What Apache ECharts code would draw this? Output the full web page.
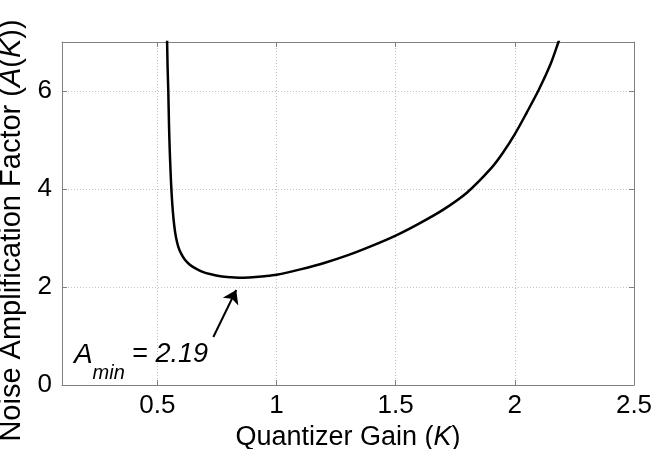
<!DOCTYPE html>
<html>
<head>
<meta charset="utf-8">
<script src="https://cdn.jsdelivr.net/npm/echarts@6/dist/echarts.min.js"></script>
<style>
  html, body { margin: 0; padding: 0; background: #fff; }
  #chart { width: 655px; height: 449px; }
</style>
</head>
<body>
<div id="chart"></div>
<script>
  // quantizer gain K and noise amplification A(K)
  const gainK = [0.540, 0.543, 0.546, 0.549, 0.552, 0.556, 0.560, 0.565, 0.571, 0.578, 0.588, 0.600, 0.615, 0.635, 0.660, 0.690, 0.725, 0.765, 0.810, 0.850, 0.900, 0.950, 1.000, 1.100, 1.200, 1.300, 1.400, 1.500, 1.600, 1.700, 1.800, 1.900, 1.950, 2.000, 2.050, 2.100, 2.150, 2.183, 2.200];
  const ampA  = [7.30, 6.50, 6.00, 5.30, 4.80, 4.30, 3.90, 3.55, 3.25, 3.02, 2.82, 2.68, 2.56, 2.46, 2.38, 2.31, 2.26, 2.22, 2.20, 2.19, 2.20, 2.22, 2.25, 2.36, 2.49, 2.65, 2.84, 3.05, 3.30, 3.58, 3.93, 4.42, 4.74, 5.12, 5.56, 6.02, 6.55, 7.00, 7.25];

  const xTicks = [0.5, 1, 1.5, 2, 2.5];
  const yTicks = [0, 2, 4, 6];

  // annotation: arrow from text to the minimum, and the text anchor
  const arrowFrom = [0.735, 0.98];
  const arrowTo = [0.831, 1.94];
  const noteAt = [0.15, 0.59];

  const font = 'Liberation Sans, Arial, sans-serif';
  const frame = '#808080';
  const gridColor = '#c4c4c4';

  const points = gainK.map((k, i) => [k, ampA[i]]);

  const chart = echarts.init(document.getElementById('chart'));

  const xBase = {
    type: 'value',
    min: 0.1,
    max: 2.5,
    axisLine: { show: true, onZero: false, lineStyle: { color: frame, width: 1 } },
    axisTick: { show: true, inside: true, length: 5, customValues: xTicks, lineStyle: { color: frame } },
    splitLine: { show: false }
  };
  const yBase = {
    type: 'value',
    min: 0,
    max: 7,
    axisLine: { show: true, onZero: false, lineStyle: { color: frame, width: 1 } },
    axisTick: { show: true, inside: true, length: 5, customValues: yTicks, lineStyle: { color: frame } },
    splitLine: { show: false }
  };
  const italic = { fontFamily: font, fontStyle: 'italic', color: '#000' };

  chart.setOption({
    animation: false,
    grid: {
      left: 62,
      right: 21,
      top: 42,
      bottom: 64,
      containLabel: false,
      outerBoundsMode: 'none'
    },
    xAxis: [
      {
        ...xBase,
        position: 'bottom',
        name: 'Quantizer Gain ({i|K})',
        nameLocation: 'middle',
        nameGap: 29,
        nameTextStyle: {
          fontFamily: font, fontSize: 27, color: '#000',
          rich: { i: { ...italic, fontSize: 27 } }
        },
        axisLabel: {
          customValues: xTicks,
          fontFamily: font, fontSize: 26, color: '#000', margin: 8,
          formatter: (v) => String(v)
        },
        splitLine: { show: true, lineStyle: { color: gridColor, type: [1, 2], width: 1 } }
      },
      {
        ...xBase,
        position: 'top',
        axisLabel: { show: false }
      }
    ],
    yAxis: [
      {
        ...yBase,
        position: 'left',
        name: 'Noise Amplification Factor ({i|A}({i|K}))',
        nameLocation: 'middle',
        nameRotate: 90,
        nameGap: 22,
        nameTextStyle: {
          fontFamily: font, fontSize: 29, color: '#000',
          padding: [0, 34, 0, 0],
          rich: { i: { ...italic, fontSize: 29 } }
        },
        axisLabel: {
          fontFamily: font, fontSize: 26, color: '#000', margin: 10,
          customValues: yTicks
        },
        splitLine: { show: true, lineStyle: { color: gridColor, type: [1, 2], width: 1 } }
      },
      {
        ...yBase,
        position: 'right',
        axisLabel: { show: false }
      }
    ],
    series: [
      {
        type: 'line',
        data: points,
        xAxisIndex: 0,
        yAxisIndex: 0,
        showSymbol: false,
        smooth: 0.3,
        clip: true,
        lineStyle: { color: '#000', width: 2.5 },
        emphasis: { disabled: true },
        markLine: {
          silent: true,
          symbol: ['none', 'arrow'],
          symbolSize: 13,
          label: { show: false },
          lineStyle: { color: '#000', width: 2, type: 'solid' },
          emphasis: { disabled: true },
          data: [[{ coord: arrowFrom }, { coord: arrowTo }]]
        },
        markPoint: {
          silent: true,
          symbol: 'circle',
          symbolSize: 0,
          emphasis: { disabled: true },
          label: {
            show: true,
            position: 'right',
            distance: 0,
            color: '#000',
            fontFamily: font,
            formatter: '{a|A}{sub|min}{eq| = }{num|2.19}',
            rich: {
              a: { ...italic, fontSize: 28, verticalAlign: 'top', lineHeight: 30 },
              sub: { ...italic, fontSize: 20, verticalAlign: 'top', lineHeight: 20, padding: [22, 0, 0, 0] },
              eq: { fontFamily: font, fontSize: 27, color: '#000', verticalAlign: 'top', lineHeight: 30 },
              num: { ...italic, fontSize: 27, verticalAlign: 'top', lineHeight: 30 }
            }
          },
          data: [{ coord: noteAt, value: 2.19 }]
        }
      }
    ]
  });
</script>
</body>
</html>
